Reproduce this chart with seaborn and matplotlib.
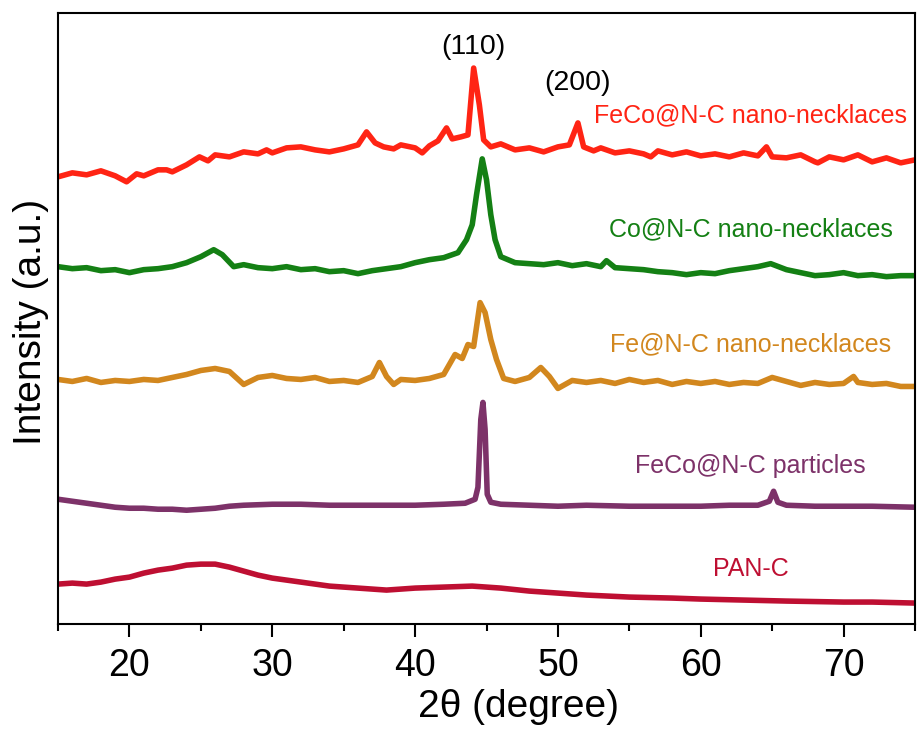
import numpy as np
import pandas as pd
import matplotlib
matplotlib.use("Agg")
import matplotlib.pyplot as plt
import seaborn as sns

# XRD patterns, stacked (intensity in arbitrary units, offset already included)
pan_x = [15, 16, 17, 18, 19, 20, 21, 22, 23, 24, 25, 26, 27, 28, 29, 30, 31, 32, 33, 34,
         35, 36, 37, 38, 39, 40, 42, 44, 46, 48, 50, 52, 55, 58, 60, 63, 66, 70, 72, 75]
pan_y = [40, 41, 40, 42, 45, 47, 51, 54, 56, 59, 60, 60, 57, 53, 49, 46, 44, 42, 40, 38,
         37, 36, 35, 34, 35, 36, 37, 38, 36, 33, 31, 29, 27, 26, 25, 24, 23, 22, 22, 21]

part_x = [15, 16, 17, 18, 19, 20, 21, 22, 23, 24, 25, 26, 27, 28, 30, 32, 34, 36, 38, 40,
          42, 43.5, 44.2, 44.4, 44.6, 44.75, 44.9, 45.05, 45.3, 46, 48, 50, 52, 55, 58, 60,
          62, 64, 64.8, 65.1, 65.4, 66, 68, 70, 72, 75]
part_y = [125, 123, 121, 119, 117, 116, 116, 115, 115, 114, 115, 116, 118, 119, 120, 120, 119, 119, 119, 119,
          120, 121, 125, 137, 205, 222, 195, 130, 122, 120, 119, 118, 119, 118, 118, 118,
          119, 119, 123, 133, 122, 119, 118, 118, 118, 117]

fe_x = [15, 16, 17, 18, 19, 20, 21, 22, 23, 24, 25, 26, 27, 28, 29, 30, 31, 32, 33, 34,
        35, 36, 37, 37.5, 38, 38.5, 39, 40, 41, 42, 42.8, 43.3, 43.7, 44.1, 44.55, 44.9, 45.3,
        45.7, 46.2, 47, 48, 48.8, 49.4, 50, 51, 52, 53, 54, 55, 56, 57, 58, 59, 60, 61, 62,
        63, 64, 65, 66, 67, 68, 69, 70, 70.7, 71, 72, 73, 74, 75]
fe_y = [245, 243, 246, 242, 244, 243, 245, 244, 247, 250, 254, 256, 253, 240, 247, 249, 246, 245, 247, 243,
        244, 242, 248, 262, 248, 240, 245, 244, 246, 250, 270, 266, 280, 278, 322, 312, 285,
        265, 246, 243, 247, 257, 248, 236, 244, 242, 244, 241, 245, 242, 244, 240, 243, 241, 243, 240,
        242, 241, 247, 243, 239, 242, 240, 241, 248, 242, 240, 241, 238, 238]

co_x = [15, 16, 17, 18, 19, 20, 21, 22, 23, 24, 25, 25.9, 26.5, 27.3, 28, 29, 30, 31, 32, 33,
        34, 35, 36, 37, 38, 39, 40, 41, 42, 43, 43.6, 44.0, 44.3, 44.7, 45.0, 45.3, 45.6, 46,
        47, 48, 49, 50, 51, 52, 53, 53.4, 54, 55, 56, 57, 58, 59, 60, 61, 62, 63, 64, 64.9,
        66, 67, 68, 69, 70, 71, 72, 73, 74, 75]
co_y = [358, 356, 357, 354, 355, 352, 355, 356, 358, 362, 368, 375, 370, 358, 360, 357, 356, 358, 355, 356,
        353, 354, 351, 354, 356, 358, 362, 365, 367, 372, 385, 400, 430, 466, 445, 410, 385, 368,
        362, 361, 360, 362, 359, 361, 358, 364, 357, 356, 355, 353, 352, 350, 352, 351, 354, 356, 358, 361,
        355, 352, 349, 350, 352, 349, 350, 348, 349, 349]

feco_x = [15, 16, 17, 18, 19, 19.8, 20.5, 21, 22, 22.6, 23, 24, 24.9, 25.5, 26, 27, 28, 29, 29.6, 30,
          31, 32, 33, 34, 35, 36, 36.6, 37.2, 37.8, 38.5, 39, 40, 40.5, 41, 41.6, 42.2, 42.6, 43.2,
          43.7, 44.1, 44.5, 44.8, 45.3, 46, 47, 48, 49, 50, 50.8, 51.4, 51.8, 52.5, 53, 54, 55,
          56, 56.5, 57, 58, 59, 60, 61, 62, 63, 64, 64.6, 65, 66, 67, 68, 68.2, 69, 70, 71, 72,
          73, 74, 75]
feco_y = [448, 452, 450, 454, 449, 443, 451, 449, 455, 455, 453, 460, 468, 464, 470, 468, 473, 471, 475, 472,
          477, 478, 475, 473, 476, 480, 493, 482, 478, 476, 480, 477, 472, 479, 484, 497, 486, 488,
          490, 557, 520, 485, 478, 481, 475, 477, 473, 478, 480, 502, 478, 474, 477, 472, 474,
          471, 468, 474, 470, 473, 469, 471, 468, 472, 469, 478, 468, 467, 470, 463, 462, 468, 465, 470, 463,
          467, 462, 465]

names = ["PAN-C", "FeCo@N-C particles", "Fe@N-C nano-necklaces",
         "Co@N-C nano-necklaces", "FeCo@N-C nano-necklaces"]
colors = ["#BE0F32", "#7D3269", "#D2871E", "#148014", "#FF2414"]
label_y = [55, 158, 280, 395, 510]

sns.set_style("white")
plt.rcParams["font.family"] = ["Liberation Sans", "DejaVu Sans"]
plt.rcParams["text.color"] = "black"
plt.rcParams["axes.labelcolor"] = "black"
plt.rcParams["xtick.color"] = "black"

fig = plt.figure(figsize=(9.17, 7.29), dpi=100)
ax = fig.add_axes([0.0633, 0.144, 0.9345, 0.838])

series = [(pan_x, pan_y), (part_x, part_y), (fe_x, fe_y), (co_x, co_y), (feco_x, feco_y)]
for (xs, ys), name, c, ly in zip(series, names, colors, label_y):
    sns.lineplot(x=xs, y=ys, color=c, linewidth=4, ax=ax, estimator=None)
    ax.text(63.5, ly, name, color=c, fontsize=18, ha="center", va="center")

ax.text(44.1, 578, "(110)", fontsize=20.5, ha="center", va="center")
ax.text(51.4, 542, "(200)", fontsize=20.5, ha="center", va="center")

ax.set_xlim(15, 75)
ax.set_ylim(0, 612)
ax.set_yticks([])
ax.set_xticks([20, 30, 40, 50, 60, 70])
ax.set_xticks(np.arange(15, 76, 5), minor=True)
ax.tick_params(axis="x", which="major", direction="out", length=9, width=1.5,
               labelsize=27, pad=8, bottom=True)
ax.tick_params(axis="x", which="minor", direction="out", length=5, width=1.5, bottom=True)
for s in ax.spines.values():
    s.set_linewidth(1.5)
    s.set_color("black")

ax.set_xlabel("2θ (degree)", fontsize=28)
ax.xaxis.set_label_coords(0.537, -0.107)
ax.set_ylabel("Intensity (a.u.)", fontsize=28)
ax.yaxis.set_label_coords(-0.01, 0.495)

fig.savefig("out.png", dpi=100)
